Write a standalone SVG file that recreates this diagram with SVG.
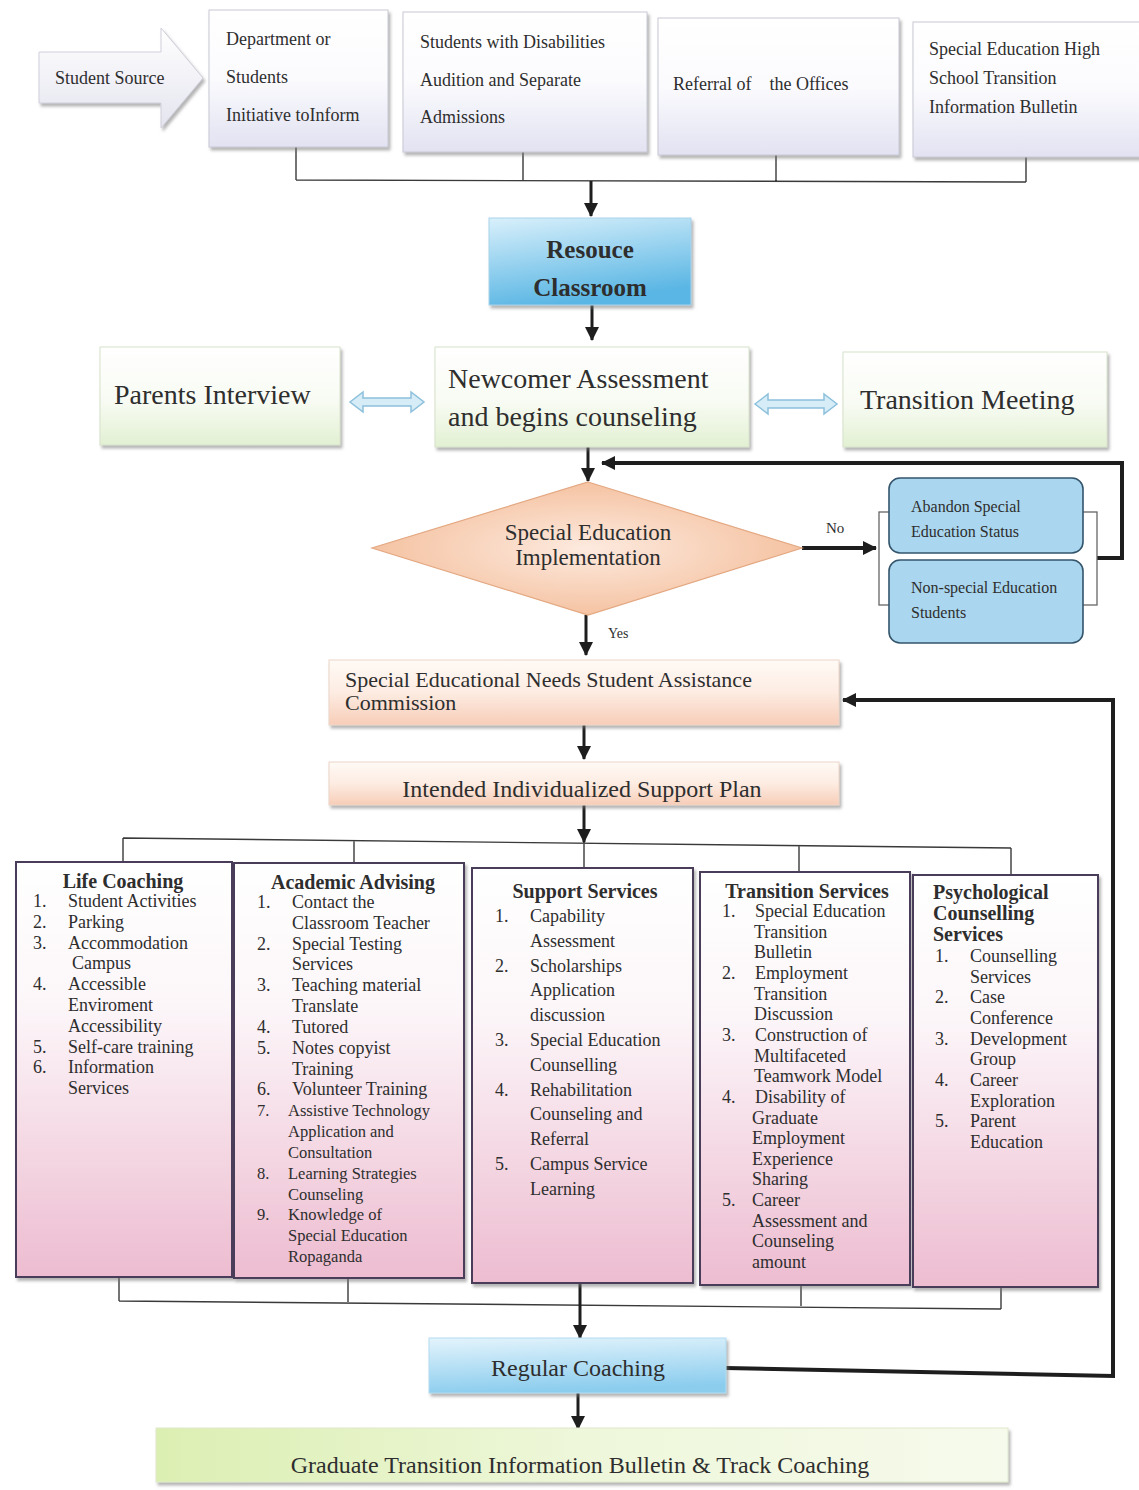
<svg xmlns="http://www.w3.org/2000/svg" width="1139" height="1490" viewBox="0 0 1139 1490">
<style>
text{font-family:"Liberation Serif","Times New Roman",serif;fill:#2e2e2e}
.t18{font-size:18px}
.t16{font-size:16px}
.big{font-size:28px}
.mid{font-size:24px}
.title{font-size:20px;font-weight:bold}
.c{text-anchor:middle}
.thin{fill:none;stroke:#3a3a3a;stroke-width:1.4}
.thick{fill:none;stroke:#1e1e1e;stroke-width:3}
.heavy{fill:none;stroke:#1e1e1e;stroke-width:4}
.svc{fill:url(#gPink);stroke:#4a3d5a;stroke-width:2}
.top{fill:url(#gLav);stroke:#c8c8d4;stroke-width:1}
.grn{fill:url(#gGreen);stroke:#d8e2cc;stroke-width:1}
.peach{fill:url(#gPeach);stroke:#ecd6c8;stroke-width:1}
.blu{fill:#aad7ef;stroke:#34556c;stroke-width:1.6}
.dbl{fill:#d6ecf7;stroke:#8cc0dc;stroke-width:1.5}
</style>
<defs>
<linearGradient id="gLav" x1="0" y1="0" x2="0" y2="1"><stop offset="0" stop-color="#ffffff"/><stop offset="0.5" stop-color="#fbfbfe"/><stop offset="1" stop-color="#e2e2f2"/></linearGradient>
<linearGradient id="gGreen" x1="0" y1="0" x2="0" y2="1"><stop offset="0" stop-color="#ffffff"/><stop offset="0.55" stop-color="#f8fbf3"/><stop offset="1" stop-color="#e2f0d2"/></linearGradient>
<linearGradient id="gPeach" x1="0" y1="0" x2="0" y2="1"><stop offset="0" stop-color="#fffaf6"/><stop offset="0.5" stop-color="#fdece2"/><stop offset="1" stop-color="#f7cdb8"/></linearGradient>
<linearGradient id="gPink" x1="0" y1="0" x2="0" y2="1"><stop offset="0" stop-color="#ffffff"/><stop offset="0.35" stop-color="#fcf6f9"/><stop offset="1" stop-color="#edbcd0"/></linearGradient>
<linearGradient id="gBlue" x1="0" y1="0" x2="0.3" y2="1"><stop offset="0" stop-color="#d9f0fb"/><stop offset="1" stop-color="#5ab6e4"/></linearGradient>
<linearGradient id="gBlue2" x1="0" y1="0" x2="0.2" y2="1"><stop offset="0" stop-color="#e4f4fc"/><stop offset="1" stop-color="#8ccdee"/></linearGradient>
<linearGradient id="gGrad" x1="0" y1="0" x2="1" y2="0"><stop offset="0" stop-color="#dcefb2"/><stop offset="0.5" stop-color="#eef7da"/><stop offset="1" stop-color="#f6faec"/></linearGradient>
<radialGradient id="gDia" cx="0.5" cy="0.5" r="0.55"><stop offset="0" stop-color="#fdeadf"/><stop offset="1" stop-color="#f4bf9c"/></radialGradient>
<linearGradient id="gSrc" x1="0" y1="0" x2="0" y2="1"><stop offset="0" stop-color="#ffffff"/><stop offset="1" stop-color="#e4e4ef"/></linearGradient>
<filter id="sh" x="-10%" y="-10%" width="125%" height="130%"><feDropShadow dx="2" dy="3" stdDeviation="1.5" flood-color="#777" flood-opacity="0.55"/></filter>
<marker id="ah" markerUnits="userSpaceOnUse" markerWidth="14" markerHeight="14" viewBox="0 0 14 14" refX="13" refY="7" orient="auto"><path d="M0,0 L14,7 L0,14 Z" fill="#1e1e1e"/></marker>
</defs>
<rect width="1139" height="1490" fill="#ffffff"/>

<g id="connectors">
<path class="thin" d="M296,147 V180 M523,152 V180 M776,155 V181 M1026,157 V182 M296,180 L1026,182"/>
<path class="thick" d="M591,181 V216" marker-end="url(#ah)"/>
<path class="thick" d="M592,305 V340" marker-end="url(#ah)"/>
<path class="thick" d="M588,447 V481" marker-end="url(#ah)"/>
<path class="heavy" d="M1097,558 H1122 V463 H602" marker-end="url(#ah)"/>
<path class="heavy" d="M802,548 H876" marker-end="url(#ah)"/>
<rect x="879" y="512" width="218" height="93" class="thin" style="stroke:#666;stroke-width:1.3"/>
<path class="thick" d="M586,615 V655" marker-end="url(#ah)"/>
<path class="thick" d="M584,725 V759" marker-end="url(#ah)"/>
<path class="thick" d="M584,805 V842" marker-end="url(#ah)"/>
<path class="thin" d="M123,838 L1011,848 M123,838 V862 M354,841 V863 M584,842 V868 M799,846 V872 M1011,848 V875"/>
<path class="thin" d="M119,1277 V1301 M348,1278 V1302 M801,1285 V1306 M1001,1287 V1309 M119,1301 L1001,1309"/>
<path class="thick" d="M580,1283 V1338" marker-end="url(#ah)"/>
<path class="thick" d="M578,1393 V1429" marker-end="url(#ah)"/>
<path class="heavy" d="M726,1368 L1113,1376 V700 H843" marker-end="url(#ah)"/>
</g>

<g id="student-source">
<path d="M39,52 H161 V28 L203,78 L161,128 V103 H39 Z" fill="url(#gSrc)" stroke="#d0d0dc" stroke-width="1" filter="url(#sh)"/>
<text x="55" y="84" class="t18">Student Source</text>
</g>

<g id="src-department">
<rect x="209" y="10" width="179" height="137" class="top" filter="url(#sh)"/>
<text class="t18" x="226" y="45">Department or</text>
<text class="t18" x="226" y="83">Students</text>
<text class="t18" x="226" y="121">Initiative toInform</text>
</g>

<g id="src-audition">
<rect x="403" y="12" width="244" height="140" class="top" filter="url(#sh)"/>
<text class="t18" x="420" y="48">Students with Disabilities</text>
<text class="t18" x="420" y="86">Audition and Separate</text>
<text class="t18" x="420" y="123">Admissions</text>
</g>

<g id="src-referral">
<rect x="658" y="18" width="241" height="137" class="top" filter="url(#sh)"/>
<text class="t18" x="673" y="90" xml:space="preserve">Referral of    the Offices</text>
</g>

<g id="src-bulletin">
<rect x="913" y="22" width="230" height="135" class="top" filter="url(#sh)"/>
<text class="t18" x="929" y="55">Special Education High</text>
<text class="t18" x="929" y="84">School Transition</text>
<text class="t18" x="929" y="113">Information Bulletin</text>
</g>

<g id="resource-classroom">
<rect x="489" y="218" width="202" height="87" fill="url(#gBlue)" stroke="#a9d3ea" stroke-width="1" filter="url(#sh)"/>
<text class="c" x="590" y="258" style="font-size:25px;font-weight:bold">Resouce</text>
<text class="c" x="590" y="296" style="font-size:25px;font-weight:bold">Classroom</text>
</g>

<g id="parents-interview">
<rect x="100" y="347" width="240" height="98" class="grn" filter="url(#sh)"/>
<text class="big" x="114" y="404">Parents Interview</text>
</g>
<path class="dbl" d="M350,402 L363,392 V398 H411 V392 L424,402 L411,412 V406 H363 V412 Z"/>

<g id="newcomer">
<rect x="435" y="347" width="314" height="100" class="grn" filter="url(#sh)"/>
<text class="big" x="448" y="388">Newcomer Assessment</text>
<text class="big" x="448" y="426">and begins counseling</text>
</g>
<path class="dbl" d="M755,404 L768,394 V400 H824 V394 L837,404 L824,414 V408 H768 V414 Z"/>

<g id="transition-meeting">
<rect x="843" y="352" width="264" height="95" class="grn" filter="url(#sh)"/>
<text class="big" x="860" y="409">Transition Meeting</text>
</g>

<g id="decision">
<path d="M588,482 L802,548 L588,615 L372,548 Z" fill="url(#gDia)" stroke="#e3a882" stroke-width="1.2"/>
<text class="c" x="588" y="540" style="font-size:23px">Special Education</text>
<text class="c" x="588" y="565" style="font-size:23px">Implementation</text>
</g>
<text x="826" y="533" style="font-size:15px">No</text>
<text x="608" y="638" style="font-size:14px">Yes</text>

<g id="abandon">
<rect x="889" y="478" width="194" height="75" rx="11" class="blu"/>
<text class="t16" x="911" y="512">Abandon Special</text>
<text class="t16" x="911" y="537">Education Status</text>
</g>
<g id="non-special">
<rect x="889" y="560" width="194" height="83" rx="11" class="blu"/>
<text class="t16" x="911" y="593">Non-special Education</text>
<text class="t16" x="911" y="618">Students</text>
</g>

<g id="sen-commission">
<rect x="329" y="660" width="510" height="65" class="peach" filter="url(#sh)"/>
<text x="345" y="687" style="font-size:22px">Special Educational Needs Student Assistance</text>
<text x="345" y="710" style="font-size:22px">Commission</text>
</g>

<g id="support-plan">
<rect x="329" y="762" width="510" height="43" class="peach" filter="url(#sh)"/>
<text class="mid c" x="582" y="797">Intended Individualized Support Plan</text>
</g>

<g id="life-coaching">
<rect x="16" y="862" width="216" height="415" class="svc" filter="url(#sh)"/>
<text class="title c" x="123" y="888">Life Coaching</text>
<g class="t18">
<text x="33" y="907">1.</text><text x="68" y="907">Student Activities</text>
<text x="33" y="928">2.</text><text x="68" y="928">Parking</text>
<text x="33" y="949">3.</text><text x="68" y="949">Accommodation</text>
<text x="72" y="969">Campus</text>
<text x="33" y="990">4.</text><text x="68" y="990">Accessible</text>
<text x="68" y="1011">Enviroment</text>
<text x="68" y="1032">Accessibility</text>
<text x="33" y="1053">5.</text><text x="68" y="1053">Self-care training</text>
<text x="33" y="1073">6.</text><text x="68" y="1073">Information</text>
<text x="68" y="1094">Services</text>
</g>
</g>

<g id="academic-advising">
<rect x="234" y="863" width="230" height="415" class="svc" filter="url(#sh)"/>
<text class="title c" x="353" y="889">Academic Advising</text>
<g class="t18">
<text x="257" y="908">1.</text><text x="292" y="908">Contact the</text>
<text x="292" y="929">Classroom Teacher</text>
<text x="257" y="950">2.</text><text x="292" y="950">Special Testing</text>
<text x="292" y="970">Services</text>
<text x="257" y="991">3.</text><text x="292" y="991">Teaching material</text>
<text x="292" y="1012">Translate</text>
<text x="257" y="1033">4.</text><text x="292" y="1033">Tutored</text>
<text x="257" y="1054">5.</text><text x="292" y="1054">Notes copyist</text>
<text x="292" y="1075">Training</text>
<text x="257" y="1095">6.</text><text x="292" y="1095">Volunteer Training</text>
</g>
<g style="font-size:16.5px">
<text x="257" y="1116">7.</text><text x="288" y="1116">Assistive Technology</text>
<text x="288" y="1137">Application and</text>
<text x="288" y="1158">Consultation</text>
<text x="257" y="1179">8.</text><text x="288" y="1179">Learning Strategies</text>
<text x="288" y="1200">Counseling</text>
<text x="257" y="1220">9.</text><text x="288" y="1220">Knowledge of</text>
<text x="288" y="1241">Special Education</text>
<text x="288" y="1262">Ropaganda</text>
</g>
</g>

<g id="support-services">
<rect x="472" y="868" width="221" height="415" class="svc" filter="url(#sh)"/>
<text class="title c" x="585" y="898">Support Services</text>
<g class="t18">
<text x="495" y="922">1.</text><text x="530" y="922">Capability</text>
<text x="530" y="947">Assessment</text>
<text x="495" y="972">2.</text><text x="530" y="972">Scholarships</text>
<text x="530" y="996">Application</text>
<text x="530" y="1021">discussion</text>
<text x="495" y="1046">3.</text><text x="530" y="1046">Special Education</text>
<text x="530" y="1071">Counselling</text>
<text x="495" y="1096">4.</text><text x="530" y="1096">Rehabilitation</text>
<text x="530" y="1120">Counseling and</text>
<text x="530" y="1145">Referral</text>
<text x="495" y="1170">5.</text><text x="530" y="1170">Campus Service</text>
<text x="530" y="1195">Learning</text>
</g>
</g>

<g id="transition-services">
<rect x="700" y="872" width="210" height="413" class="svc" filter="url(#sh)"/>
<text class="title c" x="807" y="898">Transition Services</text>
<g class="t18">
<text x="722" y="917">1.</text><text x="755" y="917">Special Education</text>
<text x="754" y="938">Transition</text>
<text x="754" y="958">Bulletin</text>
<text x="722" y="979">2.</text><text x="755" y="979">Employment</text>
<text x="754" y="1000">Transition</text>
<text x="754" y="1020">Discussion</text>
<text x="722" y="1041">3.</text><text x="755" y="1041">Construction of</text>
<text x="754" y="1062">Multifaceted</text>
<text x="754" y="1082">Teamwork Model</text>
<text x="722" y="1103">4.</text><text x="755" y="1103">Disability of</text>
<text x="752" y="1124">Graduate</text>
<text x="752" y="1144">Employment</text>
<text x="752" y="1165">Experience</text>
<text x="752" y="1185">Sharing</text>
<text x="722" y="1206">5.</text><text x="752" y="1206">Career</text>
<text x="752" y="1227">Assessment and</text>
<text x="752" y="1247">Counseling</text>
<text x="752" y="1268">amount</text>
</g>
</g>

<g id="psychological-counselling">
<rect x="913" y="875" width="185" height="412" class="svc" filter="url(#sh)"/>
<text class="title" x="933" y="899">Psychological</text>
<text class="title" x="933" y="920">Counselling</text>
<text class="title" x="933" y="941">Services</text>
<g class="t18">
<text x="935" y="962">1.</text><text x="970" y="962">Counselling</text>
<text x="970" y="983">Services</text>
<text x="935" y="1003">2.</text><text x="970" y="1003">Case</text>
<text x="970" y="1024">Conference</text>
<text x="935" y="1045">3.</text><text x="970" y="1045">Development</text>
<text x="970" y="1065">Group</text>
<text x="935" y="1086">4.</text><text x="970" y="1086">Career</text>
<text x="970" y="1107">Exploration</text>
<text x="935" y="1127">5.</text><text x="970" y="1127">Parent</text>
<text x="970" y="1148">Education</text>
</g>
</g>

<g id="regular-coaching">
<rect x="429" y="1338" width="297" height="55" fill="url(#gBlue2)" stroke="#b3dcef" stroke-width="1" filter="url(#sh)"/>
<text class="mid c" x="578" y="1376">Regular Coaching</text>
</g>

<g id="graduate">
<rect x="156" y="1428" width="852" height="54" fill="url(#gGrad)" stroke="#dfe8cc" stroke-width="1" filter="url(#sh)"/>
<text class="mid c" x="580" y="1473">Graduate Transition Information Bulletin &amp; Track Coaching</text>
</g>
</svg>
